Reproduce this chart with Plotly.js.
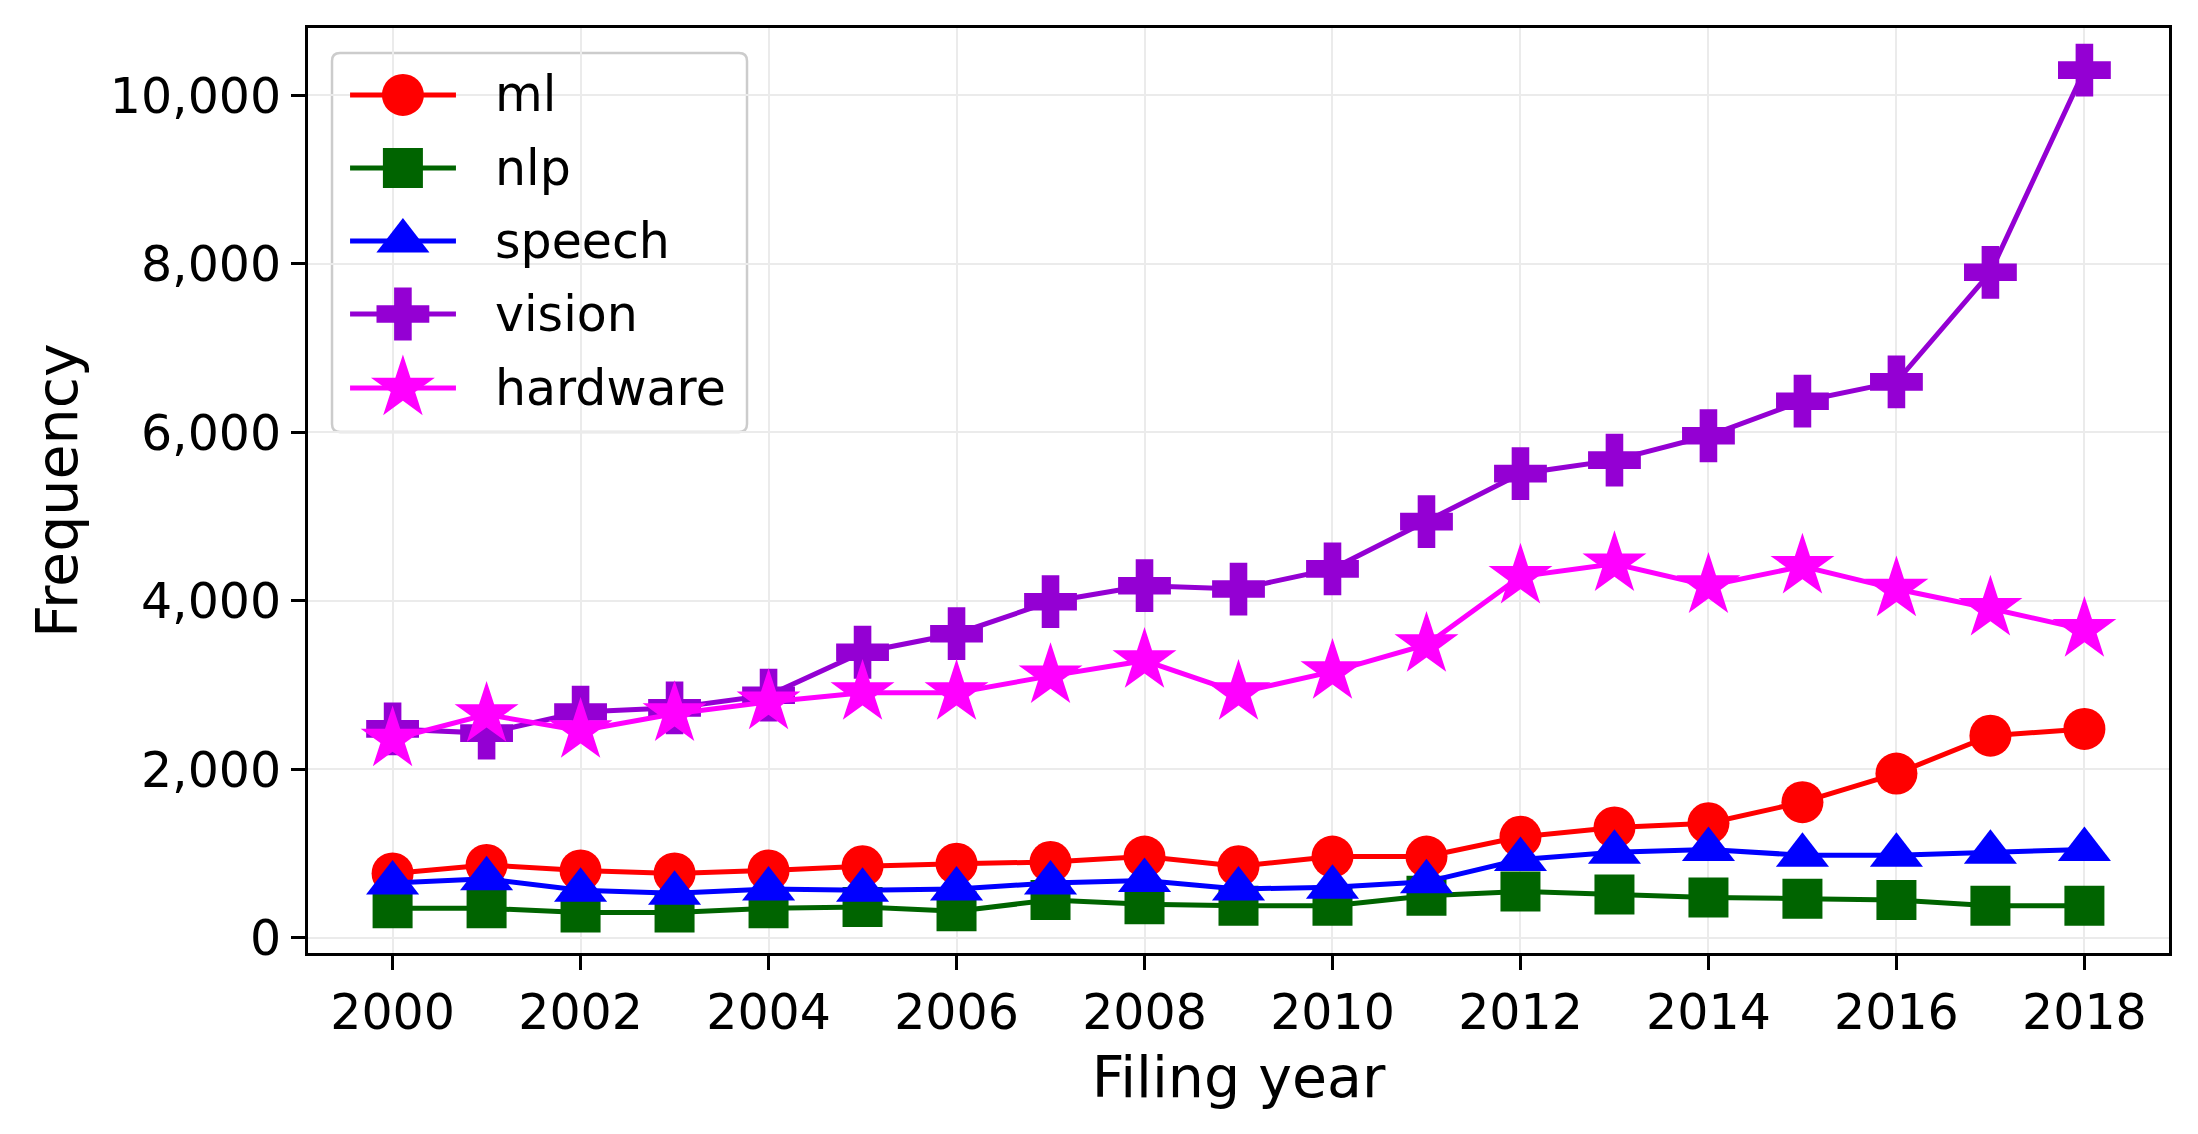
<!DOCTYPE html>
<html>
<head>
<meta charset="utf-8">
<script src="https://cdn.plot.ly/plotly-3.0.1.min.js"></script>
<style>
  html, body { margin: 0; padding: 0; background: #ffffff; }
  #chart { width: 2198px; height: 1134px; }
</style>
</head>
<body>
<div id="chart"></div>
<script>
// Patent filings per year, by topic
const years = [2000, 2001, 2002, 2003, 2004, 2005, 2006, 2007, 2008, 2009,
               2010, 2011, 2012, 2013, 2014, 2015, 2016, 2017, 2018];

const ml       = [765, 865, 800, 765, 800, 850, 880, 900, 965, 850,
                  965, 965, 1200, 1310, 1360, 1610, 1950, 2400, 2480];
const nlp      = [350, 350, 300, 300, 350, 365, 315, 450, 400, 380,
                  380, 500, 550, 515, 480, 465, 450, 380, 380];
const speech   = [650, 700, 565, 530, 580, 565, 580, 650, 680, 580,
                  600, 665, 930, 1015, 1050, 980, 980, 1015, 1050];
const vision   = [2480, 2430, 2680, 2730, 2880, 3390, 3610, 3990, 4180, 4140,
                  4380, 4940, 5510, 5670, 5960, 6370, 6600, 7900, 10300];
const hardware = [2360, 2650, 2460, 2660, 2800, 2910, 2910, 3110, 3290, 2910,
                  3160, 3480, 4290, 4440, 4180, 4410, 4140, 3910, 3660];

const seriesNames = ["ml", "nlp", "speech", "vision", "hardware"];
const seriesData = [ml, nlp, speech, vision, hardware];
const seriesColors = ["#ff0000", "#006400", "#0000ff", "#9400d3", "#ff00ff"];
const seriesSymbols = ["circle", "square", "triangle-up", "cross", "star"];
const seriesSizes = [42, 40, 46, 44, 48];

const FONT = "DejaVu Sans, Liberation Sans, sans-serif";
const LINE_W = 5;

// legend box, in plot-area fractions (matplotlib-style legend with full-size markers)
const LEG = { x0: 0.0129, x1: 0.2359, y0: 0.5632, y1: 0.973, rx: 0.0043, ry: 0.0086 };
const legendRowY = [0.9276, 0.8486, 0.7697, 0.6908, 0.6108];
const legendLineX = [0.0226, 0.051, 0.0795];
const legendTextX = 0.0994;

const traces = seriesNames.map((name, i) => ({
    x: years,
    y: seriesData[i],
    name: name,
    type: "scatter",
    mode: "lines+markers",
    showlegend: false,
    line: { color: seriesColors[i], width: LINE_W },
    marker: { symbol: seriesSymbols[i], size: seriesSizes[i], color: seriesColors[i],
              opacity: 1, line: { width: 0 } }
}));

// legend samples on a hidden overlay axis spanning the plot area
seriesNames.forEach((name, i) => {
    traces.push({
        x: legendLineX,
        y: legendLineX.map(() => legendRowY[i]),
        xaxis: "x2",
        yaxis: "y2",
        type: "scatter",
        mode: "lines+markers",
        showlegend: false,
        hoverinfo: "skip",
        line: { color: seriesColors[i], width: LINE_W },
        marker: { symbol: seriesSymbols[i], size: [0, seriesSizes[i], 0],
                  color: seriesColors[i], opacity: 1, line: { width: 0 } }
    });
});

const legendAnnotations = seriesNames.map((name, i) => ({
    xref: "paper", yref: "paper",
    x: legendTextX, y: legendRowY[i],
    xanchor: "left", yanchor: "middle",
    text: name,
    showarrow: false,
    font: { family: FONT, size: 49, color: "#000000" }
}));

const legendPath =
    `M ${LEG.x0 + LEG.rx},${LEG.y0} L ${LEG.x1 - LEG.rx},${LEG.y0} ` +
    `Q ${LEG.x1},${LEG.y0} ${LEG.x1},${LEG.y0 + LEG.ry} L ${LEG.x1},${LEG.y1 - LEG.ry} ` +
    `Q ${LEG.x1},${LEG.y1} ${LEG.x1 - LEG.rx},${LEG.y1} L ${LEG.x0 + LEG.rx},${LEG.y1} ` +
    `Q ${LEG.x0},${LEG.y1} ${LEG.x0},${LEG.y1 - LEG.ry} L ${LEG.x0},${LEG.y0 + LEG.ry} ` +
    `Q ${LEG.x0},${LEG.y0} ${LEG.x0 + LEG.rx},${LEG.y0} Z`;

const axisCommon = {
    showline: true,
    linecolor: "#000000",
    linewidth: 3,
    mirror: true,
    ticks: "outside",
    ticklen: 14,
    tickwidth: 3,
    tickcolor: "#000000",
    showgrid: true,
    gridcolor: "#ebebeb",
    gridwidth: 2,
    zeroline: false,
    tickfont: { family: FONT, size: 49, color: "#000000" }
};

const layout = {
    width: 2198,
    height: 1134,
    paper_bgcolor: "#ffffff",
    plot_bgcolor: "#ffffff",
    font: { family: FONT, color: "#000000" },
    margin: { l: 308, r: 29, t: 28, b: 181 },
    showlegend: false,
    xaxis: Object.assign({}, axisCommon, {
        range: [1999.1, 2018.9],
        tick0: 2000,
        dtick: 2,
        title: { text: "Filing year", font: { family: FONT, size: 57, color: "#000000" }, standoff: 18 }
    }),
    yaxis: Object.assign({}, axisCommon, {
        range: [-180, 10800],
        tick0: 0,
        dtick: 2000,
        tickformat: ",d",
        title: { text: "Frequency", font: { family: FONT, size: 57, color: "#000000" }, standoff: 14 }
    }),
    xaxis2: { overlaying: "x", range: [0, 1], anchor: "y2", visible: false, fixedrange: true },
    yaxis2: { overlaying: "y", range: [0, 1], anchor: "x2", visible: false, fixedrange: true },
    shapes: [{
        type: "path",
        xref: "paper", yref: "paper",
        path: legendPath,
        fillcolor: "rgba(255,255,255,0.8)",
        line: { color: "#cccccc", width: 2.5 },
        layer: "between"
    }],
    annotations: legendAnnotations
};

Plotly.newPlot("chart", traces, layout, { displayModeBar: false, staticPlot: true });
</script>
</body>
</html>
